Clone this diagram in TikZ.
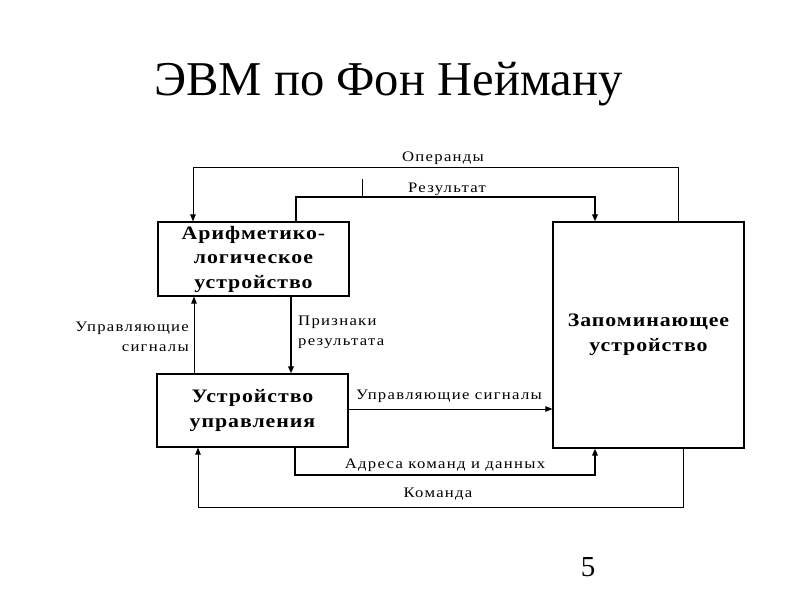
\documentclass[tikz,border=0pt]{standalone}
\usepackage{fontspec}
\setmainfont{Liberation Serif}
\newfontfamily\titlefont{Liberation Serif}
\newfontfamily\lblfont[FakeStretch=1.15,LetterSpace=9]{Liberation Serif}
\newfontfamily\boxfont[FakeStretch=1.15,LetterSpace=5]{Liberation Serif Bold}
\usetikzlibrary{arrows.meta}
\begin{document}
\begin{tikzpicture}[x=1pt,y=-1pt,
  unit/.style={draw, line width=1.2pt, minimum width=191pt, inner sep=0pt, align=center,
    font=\boxfont\fontsize{19}{24.5}\selectfont},
  thinline/.style={line width=0.8pt},
  thickline/.style={line width=2.6pt},
  arr/.style={-{Triangle[length=7pt,width=5.5pt]}},
  lbl/.style={inner sep=0pt, font=\lblfont\fontsize{14.5}{20}\selectfont}]
\useasboundingbox (0,0) rectangle (800,600);
\node[font=\titlefont\fontsize{48.6}{56}\selectfont, anchor=base west, inner sep=0pt] (title) at (154,95) {ЭВМ по Фон Нейману};
\node[font=\titlefont\fontsize{29}{32}\selectfont] (pg) at (588,567) {5};

\node[unit, minimum height=74pt] (alu) at (253.5,259) {\raisebox{-3pt}{\begin{tabular}{@{}c@{}}Арифметико-\\логическое\\устройство\end{tabular}}};
\node[unit, minimum height=73pt] (cu) at (252.5,410.5) {Устройство\\управления};
\node[unit, minimum height=226pt] (mem) at (648.5,335) {Запоминающее\\устройство};

% named points
\coordinate (op1) at (678,167);
\coordinate (op2) at (193,167);
\coordinate (r1) at (296,197);
\coordinate (r2) at (595,197);
\coordinate (t1) at (362,179);
\coordinate (t2) at (362,197);
\coordinate (cs) at (194,0);
\coordinate (pr) at (291,0);
\coordinate (hy) at (0,409);
\coordinate (a1) at (295,475);
\coordinate (a2) at (595,475);
\coordinate (k1) at (683,507);
\coordinate (k2) at (198,507);

% Operands
\draw[thinline,arr] (mem.north -| op1) -- (op1) -- (op2) -- (alu.north -| op2);
% Result
\draw[thickline,arr] (alu.north -| r1) -- (r1) -- (r2) -- (mem.north -| r2);
\draw[thinline] (t1) -- (t2);
% control signals up
\draw[thinline,arr] (cu.north -| cs) -- (alu.south -| cs);
% result flags down
\draw[thickline,arr] (alu.south -| pr) -- (cu.north -| pr);
% control signals to memory
\draw[thinline,arr] (cu.east |- hy) -- (mem.west |- hy);
% addresses
\draw[thickline,arr] (cu.south -| a1) -- (a1) -- (a2) -- (mem.south -| a2);
% command
\draw[thinline,arr] (mem.south -| k1) -- (k1) -- (k2) -- (cu.south -| k2);

% labels
\node[lbl] (lop) at (443,158) {Операнды};
\node[lbl] (lres) at (447,189) {Результат};
\node[lbl, anchor=east, align=right] (lcs) at (189,337) {Управляющие\\сигналы};
\node[lbl, anchor=west, align=left] (lpr) at (298,332) {Признаки\\результата};
\node[lbl] (lcs2) at (449,396) {Управляющие сигналы};
\node[lbl] (ladr) at (445,465) {Адреса команд и данных};
\node[lbl] (lcmd) at (438,494) {Команда};
\end{tikzpicture}
\end{document}
